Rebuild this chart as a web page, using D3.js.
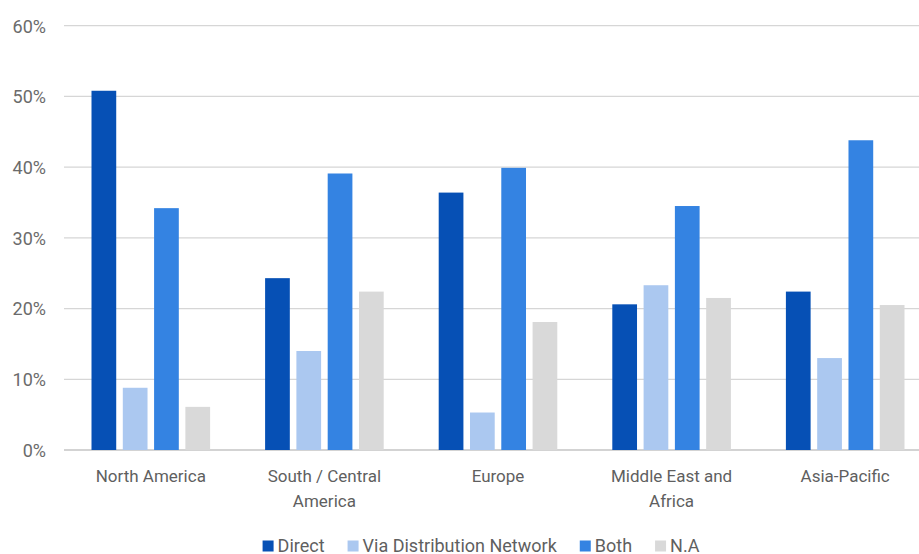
<!DOCTYPE html>
<html>
<head>
<meta charset="utf-8">
<script src="https://cdn.jsdelivr.net/npm/d3@7"></script>
<style>
  html, body { margin: 0; padding: 0; background: #fff; }
  svg { display: block; font-family: Roboto, "Noto Sans", sans-serif; }
</style>
</head>
<body>
<svg id="chart" width="919" height="554"></svg>
<script>
// Regions on the x axis (split into display lines)
const regions = ["North America", "South / Central America", "Europe", "Middle East and Africa", "Asia-Pacific"];
const regionLines = [["North America"], ["South / Central", "America"], ["Europe"], ["Middle East and", "Africa"], ["Asia-Pacific"]];

// Series names and values (percent)
const seriesNames = ["Direct", "Via Distribution Network", "Both", "N.A"];
const direct = [50.8, 24.3, 36.4, 20.6, 22.4];
const viaDistribution = [8.8, 14.0, 5.3, 23.3, 13.0];
const both = [34.2, 39.1, 39.9, 34.5, 43.8];
const notAvailable = [6.1, 22.4, 18.1, 21.5, 20.5];

// Y axis tick values
const yTicks = [0, 10, 20, 30, 40, 50, 60];

const colors = ["#0650b5", "#abc8f0", "#3483e2", "#d9d9d9"];
const seriesValues = [direct, viaDistribution, both, notAvailable];

const svg = d3.select("#chart");

const y = d3.scaleLinear().domain([0, 60]).range([450, 25.7]);
const x0 = d3.scaleBand().domain(regions).range([64, 932]).padding(0);
const groupWidth = 118.6;
const x1 = d3.scaleBand().domain(seriesNames).range([0, groupWidth]).paddingInner(0.21).paddingOuter(0);
const groupOffset = (x0.bandwidth() - groupWidth) / 2;

// Gridlines and y labels
const yAxis = d3.axisLeft(y).tickValues(yTicks).tickSize(0).tickPadding(0).tickFormat(d => d + "%");
const gy = svg.append("g").attr("transform", "translate(46,0)").call(yAxis);
gy.select(".domain").remove();
gy.selectAll("text")
  .attr("font-family", "Roboto, sans-serif")
  .attr("font-size", 18)
  .attr("fill", "#6b6b6b")
  .attr("x", 0)
  .attr("dy", "0.35em");

svg.append("g").selectAll("line")
  .data(yTicks)
  .join("line")
  .attr("x1", 64).attr("x2", 919)
  .attr("y1", d => y(d)).attr("y2", d => y(d))
  .attr("stroke", d => d === 0 ? "#c4c4c4" : "#d6d6d6")
  .attr("stroke-width", 1.3);

// Bars
const groups = svg.append("g").selectAll("g")
  .data(regions)
  .join("g")
  .attr("transform", d => `translate(${x0(d) + groupOffset},0)`);

groups.selectAll("rect")
  .data((region, i) => seriesNames.map((s, k) => ({ s, k, v: seriesValues[k][i] })))
  .join("rect")
  .attr("x", d => x1(d.s))
  .attr("width", x1.bandwidth())
  .attr("y", d => y(d.v))
  .attr("height", d => y(0) - y(d.v))
  .attr("fill", d => colors[d.k]);

// Category labels
const xl = svg.append("g");
regions.forEach((r, i) => {
  const cx = x0(r) + x0.bandwidth() / 2;
  const t = xl.append("text")
    .attr("x", cx)
    .attr("y", 482)
    .attr("text-anchor", "middle")
    .attr("font-size", 17)
    .attr("fill", "#5f5f5f");
  regionLines[i].forEach((line, j) => {
    t.append("tspan").attr("x", cx).attr("dy", j === 0 ? 0 : 25).text(line);
  });
});

// Legend
const legend = svg.append("g");
const items = legend.selectAll("g")
  .data(seriesNames)
  .join("g");
items.append("rect")
  .attr("width", 11).attr("height", 11)
  .attr("y", 540.5)
  .attr("fill", (d, i) => colors[i]);
items.append("text")
  .attr("x", 15)
  .attr("y", 551.5)
  .attr("font-size", 18)
  .attr("fill", "#5f5f5f")
  .text(d => d);
let cursor = 0;
const offsets = [];
items.each(function () {
  offsets.push(cursor);
  const w = d3.select(this).select("text").node().getComputedTextLength();
  cursor += 15 + w + 23;
});
const totalWidth = cursor - 23;
const startX = 481 - totalWidth / 2;
items.attr("transform", (d, i) => `translate(${startX + offsets[i]},0)`);
</script>
</body>
</html>
